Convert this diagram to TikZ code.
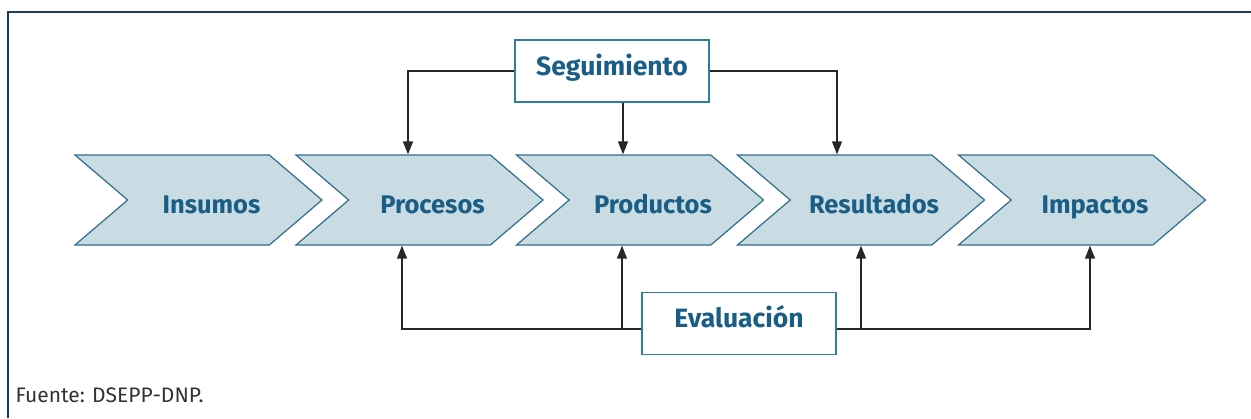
\documentclass[tikz,border=0pt]{standalone}
\usepackage{fontspec}
\setmainfont{Fira Sans}
\usepackage{tikz}
\usetikzlibrary{arrows.meta,
calc,
positioning,
shapes.symbols}

\definecolor{chevfill}{HTML}{C9DBE3}
\definecolor{chevline}{HTML}{2F6E8E}
\definecolor{labelblue}{HTML}{1A5D85}
\definecolor{boxline}{HTML}{2E7EA0}
\definecolor{framecol}{HTML}{1E3A5C}

\tikzset{
	chev/.style={shape=signal, signal from=west, signal to=east,
		signal pointer angle=81, draw=chevline, line width=1.2pt,
		fill=chevfill, minimum width=247pt, minimum height=90pt, inner sep=0pt},
	lbl/.style={font=\fontsize{25.5}{30}\selectfont\bfseries, text=labelblue,
		text height=26pt, text depth=0pt, inner sep=0pt, xshift=13pt},
	stagebox/.style={draw=boxline, line width=1.2pt, fill=white,
		minimum width=194pt, minimum height=62pt, text height=20pt, text depth=12pt,
		font=\fontsize{26.5}{30}\selectfont\bfseries, text=labelblue},
	conn/.style={-{Triangle[length=13pt, width=10pt]}, line width=1.3pt, draw=black!85}
}

\begin{document}
\begin{tikzpicture}[x=1pt, y=-1pt]
				\useasboundingbox (0,0) rectangle (1251,418);
				% frame
				\draw[framecol, line width=2pt] (8,418) |- (1251,12);
				% chain of stages
				\node [chev, label={[lbl]center:Insumos}] (ins) at (198.5,200) {};
				\node [chev, label={[lbl]center:Procesos}] (proc) at (419.5,200) {};
				\node [chev, label={[lbl]center:Productos}] (prod) at (640,200) {};
				\node [chev, label={[lbl]center:Resultados}] (res) at (861,200) {};
				\node [chev, label={[lbl]center:Impactos}] (imp) at (1082,200) {};
				\node [stagebox] (seg) at (612,71) {Seguimiento};
				\node [stagebox] (eval) at (739,323.5) {Evaluación};
				\node [anchor=west, font=\fontsize{21}{24}\selectfont, text=black!80] (src) at (12,395) {Fuente: DSEPP-DNP.};
				% monitoring
				\draw[conn] (seg.west) -| ([xshift=-11.5pt]proc.north);
				\draw[conn] ([xshift=-17pt]prod.north |- seg.south) -- ([xshift=-17pt]prod.north);
				\draw[conn] (seg.east) -| ([xshift=-24pt]res.north);
				% evaluation
				\coordinate (evl) at ([yshift=-5.5pt]eval.west);
				\coordinate (evr) at ([yshift=-5.5pt]eval.east);
				\draw[conn] (evl) -| ([xshift=-17.5pt]proc.south);
				\draw[conn] ([xshift=-18pt]prod.south |- evl) -- ([xshift=-18pt]prod.south);
				\draw[conn] (res.south |- evr) -- (res.south);
				\draw[conn] (evr) -| ([xshift=8pt]imp.south);
\end{tikzpicture}
\end{document}
